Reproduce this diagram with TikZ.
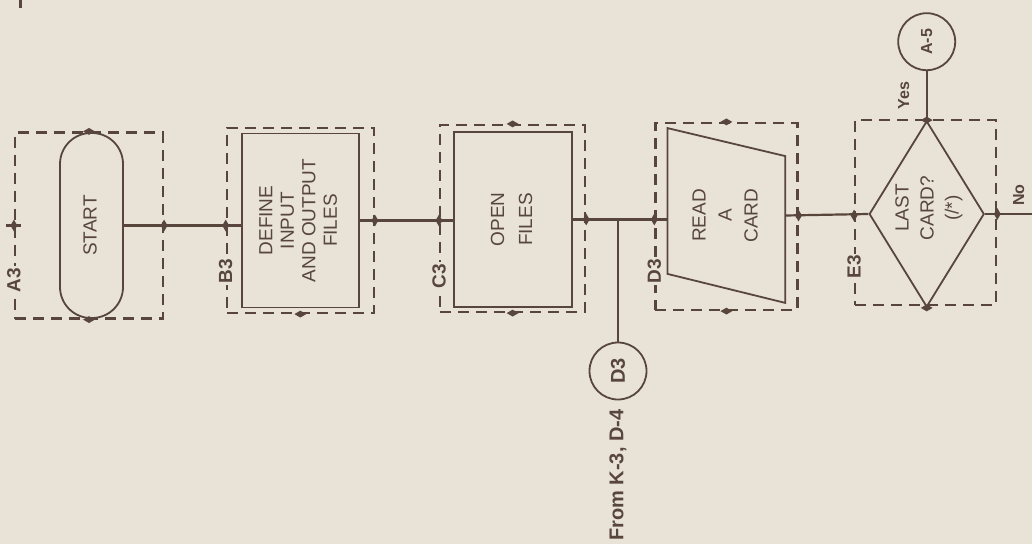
\documentclass[tikz,border=0pt]{standalone}
\usepackage{fontspec}
\setmainfont{Liberation Sans}
\usepackage{graphicx}
\usetikzlibrary{shapes.geometric,positioning}
\definecolor{paper}{RGB}{232,227,214}
\definecolor{ink}{RGB}{88,70,60}
\newcommand{\uptext}[1]{\rotatebox{90}{\begin{tabular}{@{}c@{}}#1\end{tabular}}}

\begin{document}
\begin{tikzpicture}[
    x=1pt, y=-1pt,
    every node/.style={text=ink},
    block/.style={rectangle, draw=ink, line width=1.8pt, inner sep=0pt, font=\fontsize{19}{26}\selectfont},
    frame/.style={rectangle, draw=ink, line width=2.2pt, dash pattern=on 11pt off 7pt, inner sep=0pt},
    tag/.style={fill=paper, inner sep=1.5pt, rotate=90, font=\bfseries\fontsize{19}{19}\selectfont},
    note/.style={rotate=90, inner sep=1pt, font=\bfseries\fontsize{16}{16}\selectfont},
    conn/.style={circle, draw=ink, line width=1.8pt, minimum size=57pt, inner sep=0pt},
    crossmark/.style={diamond, fill=ink, inner sep=0pt, minimum width=7pt, minimum height=12pt},
    hmark/.style={crossmark, minimum width=12pt, minimum height=7pt},
    link/.style={draw=ink, line width=2.2pt}
]
\fill[paper] (0,0) rectangle (1032,544);
\useasboundingbox (0,0) rectangle (1032,544);
\draw[ink, line width=3pt] (20,0) -- (20,8);

% blocks of the flow
\node[block, rounded corners=31pt, minimum width=63pt, minimum height=185pt] (start) at (91.5,225.5) {\uptext{START}};
\node[block, minimum width=117pt, minimum height=174pt, font=\fontsize{19}{21.5}\selectfont, right=117pt of start, yshift=5pt] (define) {\uptext{DEFINE\\INPUT\\AND OUTPUT\\FILES}};
\node[block, minimum width=118pt, minimum height=175pt, font=\fontsize{19}{28}\selectfont, right=93pt of define, yshift=1pt] (open) {\uptext{OPEN\\FILES}};
\node[block, draw=none, minimum width=116pt, minimum height=173pt, right=95pt of open, yshift=4pt] (read) {\uptext{READ\\A\\CARD}};
\draw[ink, line width=1.8pt] (read.north west) -- ([yshift=-28pt]read.north east) -- (read.south east) -- ([yshift=29pt]read.south west) -- cycle;
\node[diamond, draw=ink, line width=1.8pt, inner sep=0pt, minimum width=115pt, minimum height=186pt, right=83pt of read, yshift=1.5pt] (last) {};
\node[font=\fontsize{19}{25}\selectfont, inner sep=0pt] (lastlbl) at ([yshift=6pt, xshift=2pt]last) {\uptext{LAST\\CARD?\\(/*)}};

% dashed frames with their tags
\node[frame, minimum width=148pt, minimum height=186pt] (A3box) at ([xshift=-2.5pt]start) {};
\node[frame, minimum width=147pt, minimum height=185pt] (B3box) at (define) {};
\node[frame, minimum width=145pt, minimum height=187pt] (C3box) at ([yshift=1pt]open) {};
\node[frame, minimum width=142pt, minimum height=187pt] (D3box) at ([yshift=-1pt]read) {};
\node[frame, minimum width=141pt, minimum height=185pt] (E3box) at ([xshift=-1pt, yshift=1.5pt]last) {};
\node[tag] (A3) at ([yshift=-54.5pt]A3box.west) {A3};
\node[tag] (B3) at ([yshift=-50.5pt]B3box.west) {B3};
\node[tag] (C3) at ([yshift=-57.5pt]C3box.west) {C3};
\node[tag] (D3) at ([yshift=-54.5pt]D3box.west) {D3};
\node[tag] (E3) at ([yshift=-54.5pt]E3box.west) {E3};

% connectors
\draw[link] (start.east) -- (start.east -| define.west);
\draw[link] (define.east) -- (define.east -| open.west);
\draw[link] (open.east) -- (open.east -| read.west);
\draw[link] (read.east) -- (last.west);
\draw[link] ([xshift=-8pt]A3box.west) -- ([xshift=7pt]A3box.west);

\node[conn, font=\bfseries\fontsize{20}{20}\selectfont] (conD) at (618,371) {\rotatebox{90}{D3}};
\draw[link] (conD) -- (conD |- open.east);
\node[note, font=\bfseries\fontsize{20}{20}\selectfont, anchor=east] (from) at ([yshift=-8pt]conD.south) {From K-3, D-4};

\node[conn, font=\bfseries\fontsize{16}{16}\selectfont, above=49pt of last] (conA) {\rotatebox{90}{A-5}};
\draw[link] (last.north) -- node[midway, xshift=-23pt, note] (yes) {Yes} (conA);
\coordinate (noend) at ([xshift=60pt]last.east);
\draw[link] (last.east) -- node[pos=0.56, yshift=19pt, note] (no) {No} (noend);

% marks where lines meet the frames
\foreach \a/\b [count=\i] in {start.east/A3box.east, A3box.west/A3box.west, start.east/B3box.west, define.east/B3box.east, define.east/C3box.west, open.east/C3box.east, open.east/D3box.west, read.east/D3box.east, read.east/E3box.west, last.east/E3box.east}
    \node[crossmark] (vm\i) at (\a -| \b) {};
\foreach \a [count=\i] in {A3box.north, A3box.south, B3box.south, C3box.north, C3box.south, D3box.north, D3box.south, last.north, last.south}
    \node[hmark] (hm\i) at (\a) {};
\end{tikzpicture}
\end{document}
